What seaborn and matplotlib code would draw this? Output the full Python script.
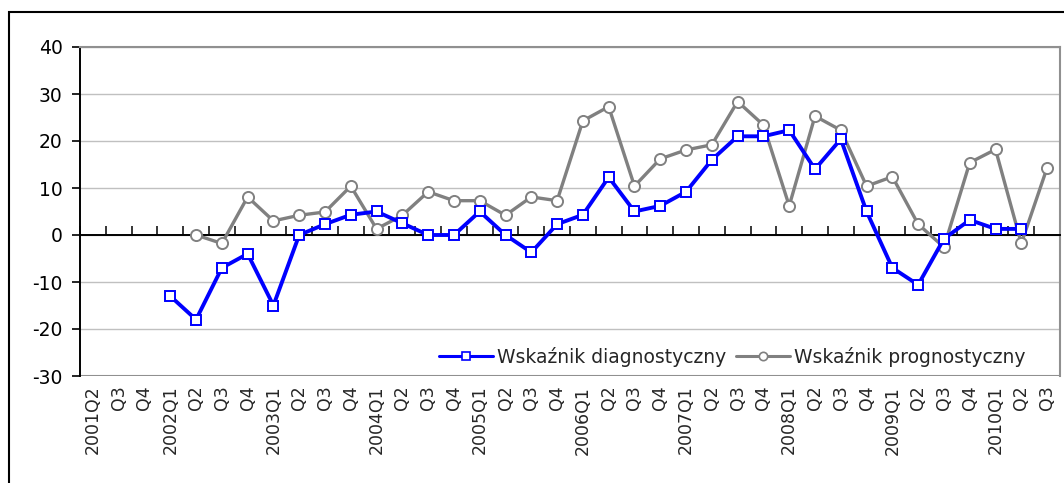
import numpy as np
import pandas as pd
import seaborn as sns
import matplotlib.pyplot as plt
from matplotlib.lines import Line2D
from matplotlib.patches import Rectangle

# quarters 2001Q2 .. 2010Q3
quarters = ["2001Q2", "Q3", "Q4",
            "2002Q1", "Q2", "Q3", "Q4",
            "2003Q1", "Q2", "Q3", "Q4",
            "2004Q1", "Q2", "Q3", "Q4",
            "2005Q1", "Q2", "Q3", "Q4",
            "2006Q1", "Q2", "Q3", "Q4",
            "2007Q1", "Q2", "Q3", "Q4",
            "2008Q1", "Q2", "Q3", "Q4",
            "2009Q1", "Q2", "Q3", "Q4",
            "2010Q1", "Q2", "Q3"]

diagnostyczny = [np.nan, np.nan, np.nan,
                 -13, -18, -7, -4,
                 -15, 0, 2.3, 4.3,
                 5, 2.5, 0, 0,
                 5, 0, -3.7, 2.3,
                 4.3, 12.3, 5, 6.2,
                 9.2, 16, 21, 21,
                 22.3, 14, 20.4, 5,
                 -7, -10.6, -0.8, 3.2,
                 1.3, 1.3, np.nan]

prognostyczny = [np.nan, np.nan, np.nan,
                 np.nan, 0, -1.8, 8.1,
                 3, 4.2, 4.9, 10.4,
                 1.3, 4.2, 9.2, 7.3,
                 7.3, 4.2, 8.1, 7.3,
                 24.3, 27.3, 10.4, 16.2,
                 18.1, 19.2, 28.4, 23.4,
                 6.2, 25.3, 22.3, 10.4,
                 12.4, 2.3, -2.6, 15.4,
                 18.2, -1.8, 14.3]

df = pd.DataFrame({"idx": np.arange(len(quarters)),
                   "diag": diagnostyczny,
                   "prog": prognostyczny})

sns.set_style("white")
plt.rcParams['font.family'] = ['DejaVu Sans']
plt.rcParams['axes.unicode_minus'] = False

fig = plt.figure(figsize=(10.64, 4.83), dpi=100)
ax = fig.add_axes([80/1064, 1-376/483, 980/1064, 329/483])

sns.lineplot(x="idx", y="prog", data=df.dropna(subset=["prog"]), ax=ax,
             color="#808080", linewidth=2.4, marker="o", markersize=8,
             markerfacecolor="white", markeredgecolor="#808080", markeredgewidth=1.4,
             zorder=3)
sns.lineplot(x="idx", y="diag", data=df.dropna(subset=["diag"]), ax=ax,
             color="#0000FF", linewidth=2.8, marker="s", markersize=7.5,
             markerfacecolor="white", markeredgecolor="#0000FF", markeredgewidth=1.4,
             zorder=4)

ax.set_xlim(-0.5, len(quarters) - 0.5)
ax.set_ylim(-30, 40)
ax.set_yticks(range(-30, 41, 10))
ax.yaxis.grid(True, color="#c0c0c0", linewidth=1)
ax.xaxis.grid(False)
ax.set_xlabel("")
ax.set_ylabel("")
ax.tick_params(axis="y", direction="out", length=5.5, width=1.2, colors="black",
               labelsize=13.5, left=True, pad=7)

# zero axis with ticks between categories
ax.spines["bottom"].set_position(("data", 0))
ax.spines["bottom"].set_color("black")
ax.spines["bottom"].set_linewidth(1.4)
ax.set_xticks(np.arange(-0.5, len(quarters), 1.0))
ax.tick_params(axis="x", direction="in", length=6.5, width=1.1, colors="black",
               labelbottom=False, bottom=True)
ax.spines["left"].set_color("black")
ax.spines["left"].set_linewidth(1.4)
for s in ["top", "right"]:
    ax.spines[s].set_color("#909090")
    ax.spines[s].set_linewidth(1.5)
ax.axhline(-30, color="#909090", linewidth=1.5, zorder=2)

# category labels at bottom
sec = ax.secondary_xaxis("bottom")
sec.set_xticks(np.arange(len(quarters)))
sec.set_xticklabels(quarters, rotation=90, fontsize=12.5)
sec.tick_params(length=0, pad=7)
sec.spines["bottom"].set_visible(False)

handles = [Line2D([], [], color="#0000FF", linewidth=2.2, marker="s", markersize=5.5,
                  markerfacecolor="white", markeredgecolor="#0000FF", markeredgewidth=1.2),
           Line2D([], [], color="#808080", linewidth=2.2, marker="o", markersize=6,
                  markerfacecolor="white", markeredgecolor="#808080", markeredgewidth=1.2)]
leg = ax.legend(handles, ["Wskaźnik diagnostyczny", "Wskaźnik prognostyczny"],
                loc="lower right", bbox_to_anchor=(0.98, -0.018), ncol=2, fontsize=13.5,
                frameon=True, fancybox=False, handlelength=2.9, handletextpad=0.2,
                columnspacing=0.5, borderpad=0.3)
leg.get_frame().set_edgecolor("white")
leg.get_frame().set_facecolor("white")
leg.get_frame().set_alpha(1)

# outer chart border
fig.patches.append(Rectangle((9/1064, -0.1), 1.2, 0.1 + (1 - 12/483),
                             transform=fig.transFigure, fill=False,
                             edgecolor="black", linewidth=1.5))

fig.savefig("out.png", dpi=100)
